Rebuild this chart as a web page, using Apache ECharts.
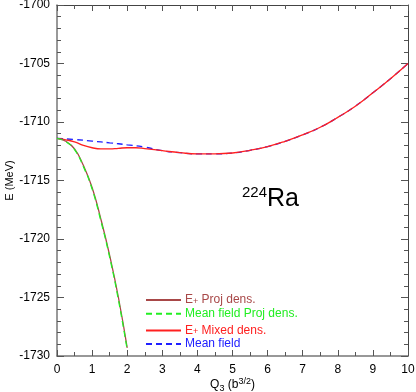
<!DOCTYPE html>
<html>
<head>
<meta charset="utf-8">
<script src="https://cdn.jsdelivr.net/npm/echarts@6/dist/echarts.min.js"></script>
<style>
  html, body { margin: 0; padding: 0; background: #fff; }
  #main { width: 416px; height: 392px; }
</style>
</head>
<body>
<div id="main"></div>
<script>
// Q3 values (b^3/2) and energies (MeV)
var qProj = [0, 0.25, 0.5, 0.75, 1.0, 1.25, 1.5, 1.75, 2.0];
var eProj = [-1711.4, -1711.65, -1712.3, -1713.7, -1715.6, -1718.3, -1721.4, -1725.0, -1729.3];
var eMfProj = [-1711.4, -1711.68, -1712.36, -1713.8, -1715.72, -1718.45, -1721.55, -1725.2, -1729.45];

var qMixed = [0, 0.25, 0.5, 0.75, 1.0, 1.25, 1.5, 1.75, 2.0, 2.25, 2.5, 3.0, 3.5, 4.0, 4.5, 5.0, 5.5, 6.0, 6.5, 7.0, 7.5, 8.0, 8.5, 9.0, 9.5, 10.0];
var eMixed = [-1711.4, -1711.52, -1711.7, -1712.0, -1712.2, -1712.3, -1712.3, -1712.25, -1712.2, -1712.2, -1712.27, -1712.45, -1712.62, -1712.72, -1712.72, -1712.65, -1712.42, -1712.1, -1711.65, -1711.1, -1710.45, -1709.6, -1708.65, -1707.5, -1706.3, -1705.0];

var qMf = [0, 0.5, 1.0, 1.5, 2.0, 2.5, 3.0, 3.5, 4.0, 4.5, 5.0, 5.5, 6.0, 6.5, 7.0, 7.5, 8.0, 8.5, 9.0, 9.5, 10.0];
var eMf = [-1711.4, -1711.5, -1711.63, -1711.78, -1711.95, -1712.15, -1712.45, -1712.62, -1712.72, -1712.72, -1712.65, -1712.42, -1712.1, -1711.65, -1711.1, -1710.45, -1709.6, -1708.65, -1707.5, -1706.3, -1705.0];

var xTicks = [0, 1, 2, 3, 4, 5, 6, 7, 8, 9, 10];
var yTicks = [-1730, -1725, -1720, -1715, -1710, -1705, -1700];

function pairs(xs, ys) {
  return xs.map(function (x, i) { return [x, ys[i]]; });
}

var chart = echarts.init(document.getElementById('main'));

var axisColor = '#777';
var baseX = {
  type: 'value',
  min: xTicks[0],
  max: xTicks[xTicks.length - 1],
  interval: 1,
  splitLine: { show: false },
  axisLine: { show: true, onZero: false, lineStyle: { color: axisColor, width: 1.5 } },
  axisTick: { show: true, inside: true, length: 6, lineStyle: { color: '#555' } },
  minorTick: { show: true, splitNumber: 2, length: 4, lineStyle: { color: '#555' } },
  minorSplitLine: { show: false }
};
var baseY = {
  type: 'value',
  min: yTicks[0],
  max: yTicks[yTicks.length - 1],
  interval: 5,
  splitLine: { show: false },
  axisLine: { show: true, onZero: false, lineStyle: { color: axisColor, width: 1.5 } },
  axisTick: { show: true, inside: true, length: 7, lineStyle: { color: '#555' } },
  minorTick: { show: true, splitNumber: 5, length: 4, lineStyle: { color: '#555' } },
  minorSplitLine: { show: false }
};

var option = {
  animation: false,
  backgroundColor: '#fff',
  textStyle: { fontFamily: 'Liberation Sans, Arial, sans-serif' },
  grid: { left: 57, right: 8, top: 5, bottom: 36, containLabel: false, outerBoundsMode: 'none' },
  title: {
    text: '{sup|224}{big|Ra}',
    left: 242,
    top: 185,
    padding: 0,
    textStyle: {
      fontWeight: 'normal',
      rich: {
        sup: { fontSize: 15, color: '#000', fontWeight: 'normal', verticalAlign: 'top', lineHeight: 28, fontFamily: 'Liberation Sans' },
        big: { fontSize: 25, color: '#000', fontWeight: 'normal', lineHeight: 28, fontFamily: 'Liberation Sans' }
      }
    }
  },
  legend: {
    orient: 'vertical',
    left: 145,
    top: 291,
    itemWidth: 35,
    itemHeight: 10,
    itemGap: 1.7,
    padding: 0,
    itemStyle: { opacity: 0 },
    data: ['E+ Proj dens.', 'Mean field Proj dens.', 'E+ Mixed dens.', 'Mean field'],
    formatter: function (name) {
      if (name === 'E+ Proj dens.') return '{br|E}{brs|+}{br| Proj dens.}';
      if (name === 'Mean field Proj dens.') return '{gr|Mean field Proj dens.}';
      if (name === 'E+ Mixed dens.') return '{rd|E}{rds|+}{rd| Mixed dens.}';
      return '{bl|Mean field}';
    },
    textStyle: {
      padding: [0, 0, 0, -1],
      rich: {
        br: { color: '#a84848', fontSize: 12, lineHeight: 12 },
        brs: { color: '#a84848', fontSize: 9, lineHeight: 12, verticalAlign: 'bottom', padding: [6, 0, 0, 0] },
        gr: { color: '#22ee22', fontSize: 12, lineHeight: 12 },
        rd: { color: '#ff2020', fontSize: 12, lineHeight: 12 },
        rds: { color: '#ff2020', fontSize: 9, lineHeight: 12, verticalAlign: 'bottom', padding: [6, 0, 0, 0] },
        bl: { color: '#2020ff', fontSize: 12, lineHeight: 12 }
      }
    }
  },
  xAxis: [
    Object.assign({}, baseX, {
      position: 'bottom',
      name: '{n|Q}{sub|3}{n| (b}{sup|3/2}{n|)}',
      nameLocation: 'middle',
      nameGap: 21,
      nameMoveOverlap: false,
      nameTextStyle: {
        rich: {
          n: { fontSize: 12, color: '#000', lineHeight: 16 },
          sub: { fontSize: 9, color: '#000', lineHeight: 16, verticalAlign: 'bottom' },
          sup: { fontSize: 9, color: '#000', lineHeight: 16, verticalAlign: 'top' }
        }
      },
      axisLabel: { color: '#000', fontSize: 12, margin: 8 }
    }),
    Object.assign({}, baseX, {
      position: 'top',
      axisLabel: { show: false },
      axisLine: { show: true, onZero: false, lineStyle: { color: '#444', width: 1 } }
    })
  ],
  yAxis: [
    Object.assign({}, baseY, {
      position: 'left',
      name: 'E (MeV)',
      nameLocation: 'middle',
      nameGap: 42,
      nameMoveOverlap: false,
      nameTextStyle: { color: '#000', fontSize: 11 },
      axisLabel: {
        color: '#000', fontSize: 12, margin: 7,
        formatter: function (v) { return String(v); }
      }
    }),
    Object.assign({}, baseY, {
      position: 'right',
      axisLabel: { show: false },
      axisLine: { show: true, onZero: false, lineStyle: { color: '#444', width: 1 } }
    })
  ],
  series: [
    {
      name: 'Mean field',
      type: 'line',
      smooth: true,
      symbol: 'none',
      z: 2,
      lineStyle: { color: '#2020ff', width: 1.3, type: [6, 4] },
      itemStyle: { color: '#2020ff' },
      data: pairs(qMf, eMf)
    },
    {
      name: 'E+ Mixed dens.',
      type: 'line',
      smooth: true,
      symbol: 'none',
      z: 3,
      lineStyle: { color: '#ff2020', width: 1.3 },
      itemStyle: { color: '#ff2020' },
      data: pairs(qMixed, eMixed)
    },
    {
      name: 'E+ Proj dens.',
      type: 'line',
      smooth: true,
      symbol: 'none',
      z: 4,
      lineStyle: { color: '#a84848', width: 1.3 },
      itemStyle: { color: '#a84848' },
      data: pairs(qProj, eProj)
    },
    {
      name: 'Mean field Proj dens.',
      type: 'line',
      smooth: true,
      symbol: 'none',
      z: 5,
      lineStyle: { color: '#22ee22', width: 1.3, type: [6, 4] },
      itemStyle: { color: '#22ee22' },
      data: pairs(qProj, eMfProj)
    }
  ]
};

chart.setOption(option);
</script>
</body>
</html>
